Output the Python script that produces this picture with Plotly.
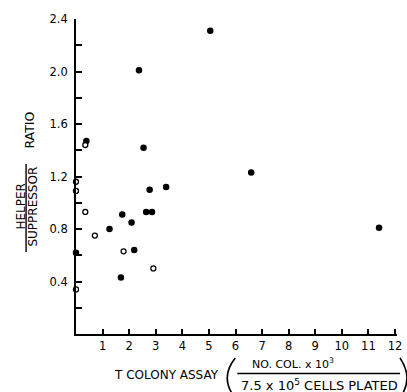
import plotly.graph_objects as go

# Data
filled_x = [5.05, 2.37, 2.54, 6.59, 2.77, 3.39, 11.4, 0.39, 1.74, 2.64, 2.86, 2.09, 1.26, 2.19, 0.0, 1.69]
filled_y = [2.31, 2.01, 1.42, 1.23, 1.10, 1.12, 0.81, 1.47, 0.91, 0.93, 0.93, 0.85, 0.80, 0.64, 0.62, 0.43]
open_x = [0.35, 0.0, 0.0, 0.35, 0.71, 1.79, 2.91, 0.0]
open_y = [1.44, 1.16, 1.09, 0.93, 0.75, 0.63, 0.50, 0.34]

x_ticks = list(range(1, 13))
x_labels = [str(v) for v in x_ticks]
y_ticks = [0.2, 0.4, 0.6, 0.8, 1.0, 1.2, 1.4, 1.6, 1.8, 2.0, 2.2, 2.4]
y_labels = [" ", "0.4", " ", "0.8", " ", "1.2", " ", "1.6", " ", "2.0", " ", "2.4"]

W, H = 407, 392
X0, X1, Y0, Y1 = 75.5, 397, 19, 334   # plot area in page pixels
L, R, T, B = X0, W - X1, Y0, H - Y1
FONT = "DejaVu Sans, Verdana, sans-serif"


def px(x):
    return (x - X0) / (X1 - X0)


def py(y):
    return (Y1 - y) / (Y1 - Y0)


def paren(xe, xm, yt, yb):
    ym = (yt + yb) / 2
    return "M %f,%f Q %f,%f %f,%f" % (px(xe), py(yt), px(xm), py(ym), px(xe), py(yb))


fig = go.Figure()
fig.add_trace(go.Scatter(
    x=filled_x, y=filled_y, mode="markers", cliponaxis=False,
    marker=dict(size=6.5, color="black", line=dict(width=0)), showlegend=False))
fig.add_trace(go.Scatter(
    x=open_x, y=open_y, mode="markers", cliponaxis=False,
    marker=dict(size=5, color="white", line=dict(width=1.3, color="black")), showlegend=False))

fig.update_xaxes(
    range=[0, 12 * (X1 - X0) / (395 - X0)], showline=True, linecolor="black", linewidth=1.8,
    ticks="inside", ticklen=5, tickwidth=1.5, tickcolor="black",
    tickvals=x_ticks, ticktext=x_labels, showgrid=False, zeroline=False,
    tickfont=dict(family=FONT, size=11.5, color="black"))
fig.update_yaxes(
    range=[0, 2.4], showline=True, linecolor="black", linewidth=1.8,
    ticks="inside", ticklen=6, tickwidth=1.5, tickcolor="black",
    tickvals=y_ticks, ticktext=y_labels, showgrid=False, zeroline=False,
    ticklabelstandoff=4,
    tickfont=dict(family=FONT, size=11.5, color="black"))

ann = []
tf = dict(family=FONT, size=12, color="black")
ann.append(dict(text="HELPER", x=px(20), y=py(207), textangle=-90, font=tf))
ann.append(dict(text="SUPPRESSOR", x=px(32), y=py(207), textangle=-90, font=tf))
ann.append(dict(text="RATIO", x=px(28), y=py(130), textangle=-90, font=dict(family=FONT, size=12.5, color="black")))
ann.append(dict(text="T COLONY ASSAY", x=px(166.5), y=py(374.5), font=tf))
ann.append(dict(text="NO. COL. x 10<sup>3</sup>", x=px(293), y=py(363), font=dict(family=FONT, size=11, color="black")))
ann.append(dict(text="7.5 x 10<sup>5</sup> CELLS PLATED", x=px(319), y=py(385), font=dict(family=FONT, size=13, color="black")))
for a in ann:
    a.update(xref="paper", yref="paper", showarrow=False, xanchor="center", yanchor="middle")

shapes = [
    dict(type="line", xref="paper", yref="paper", x0=px(25.5), x1=px(25.5), y0=py(164), y1=py(252),
         line=dict(color="black", width=1.4)),
    dict(type="line", xref="paper", yref="paper", x0=px(237), x1=px(400), y0=py(373.5), y1=py(373.5),
         line=dict(color="black", width=1.4)),
    dict(type="path", xref="paper", yref="paper", path=paren(235, 219, 358, 398),
         line=dict(color="black", width=1.6)),
    dict(type="path", xref="paper", yref="paper", path=paren(400, 414, 358, 398),
         line=dict(color="black", width=1.6)),
]

fig.update_layout(
    width=W, height=H, margin=dict(l=L, r=R, t=T, b=B, autoexpand=False),
    paper_bgcolor="white", plot_bgcolor="white",
    annotations=ann, shapes=shapes, showlegend=False)

fig.write_html(
    "out.html",
    config={"displayModeBar": False},
    post_script="document.body.style.margin='0';document.body.style.overflow='hidden';")
